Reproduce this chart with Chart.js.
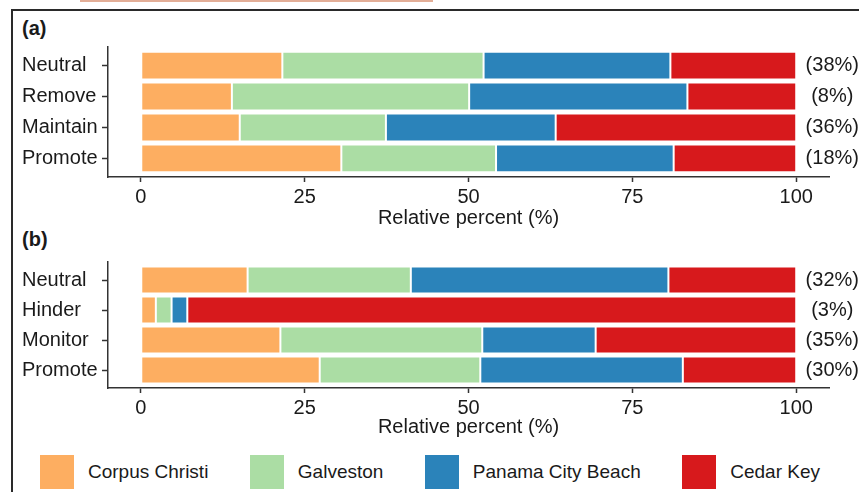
<!DOCTYPE html>
<html>
<head>
<meta charset="utf-8">
<script src="https://cdn.jsdelivr.net/npm/chart.js@4.4.1/dist/chart.umd.min.js"></script>
<style>
    body { margin: 0; width: 859px; height: 492px; overflow: hidden; background: #fff; position: relative;
           font-family: "Liberation Sans", Arial, sans-serif; color: #1a1a1a; }
    .strip { position: absolute; left: 80px; top: 0; width: 353px; height: 2px; background: #e3ae97; }
    .frame { position: absolute; left: 11px; top: 9px; right: -10px; bottom: -10px;
             border-left: 2px solid #2a2a2a; border-top: 2px solid #2a2a2a; }
    .tag { position: absolute; left: 22px; font-weight: bold; font-size: 20px; line-height: 24px; }
    canvas { position: absolute; left: 0; }
    #legend { position: absolute; left: 40px; top: 455px; width: 780px; display: flex; justify-content: space-between; }
    #legend .item { display: flex; align-items: center; font-size: 19px; }
    #legend .swatch { width: 34px; height: 34px; margin-right: 14px; }
</style>
</head>
<body>
<div class="strip"></div>
<div class="frame"></div>
<div class="tag" style="top:16px">(a)</div>
<div class="tag" style="top:227px">(b)</div>
<canvas id="panelA" width="859" height="200" style="top:30px"></canvas>
<canvas id="panelB" width="859" height="195" style="top:245px"></canvas>
<div id="legend"></div>

<script>
// sites and colours
const sites = ['Corpus Christi', 'Galveston', 'Panama City Beach', 'Cedar Key'];
const siteColors = ['#fdae61', '#abdda4', '#2b83ba', '#d7191c'];
const xTicks = [0, 25, 50, 75, 100];

// (a) attitudes
const catsA = ['Neutral', 'Remove', 'Maintain', 'Promote'];
const corpusA = [21.6, 13.9, 15.1, 30.6];
const galvestonA = [30.7, 36.2, 22.3, 23.6];
const panamaA = [28.5, 33.3, 25.9, 27.1];
const cedarA = [19.2, 16.6, 36.7, 18.7];
const shareA = ['(38%)', '(8%)', '(36%)', '(18%)'];

// (b) actions
const catsB = ['Neutral', 'Hinder', 'Monitor', 'Promote'];
const corpusB = [16.3, 2.3, 21.3, 27.3];
const galvestonB = [24.9, 2.4, 30.8, 24.5];
const panamaB = [39.3, 2.4, 17.3, 30.9];
const cedarB = [19.5, 92.9, 30.6, 17.3];
const shareB = ['(32%)', '(3%)', '(35%)', '(30%)'];

Chart.defaults.font.family = '"Liberation Sans", Arial, sans-serif';
Chart.defaults.font.size = 20;
Chart.defaults.color = '#1a1a1a';

// percent of responses written at the right end of each bar
const shareLabels = {
    id: 'shareLabels',
    afterDatasetsDraw(chart, args, opts) {
        const { ctx, scales: { x, y } } = chart;
        ctx.save();
        ctx.font = '20px "Liberation Sans", Arial, sans-serif';
        ctx.fillStyle = '#1a1a1a';
        ctx.textAlign = 'center';
        ctx.textBaseline = 'middle';
        opts.labels.forEach((t, i) => {
            ctx.fillText(t, x.getPixelForValue(opts.at), y.getPixelForValue(i + 1));
        });
        ctx.restore();
    }
};

function makePanel(id, cats, series, shares, axisHeight, titlePad) {
    const ctx = document.getElementById(id).getContext('2d');
    return new Chart(ctx, {
        type: 'bar',
        plugins: [shareLabels],
        data: {
            datasets: series.map((vals, k) => ({
                label: sites[k],
                backgroundColor: siteColors[k],
                borderColor: 'rgba(255,255,255,0.45)',
                borderWidth: 1,
                borderSkipped: false,
                categoryPercentage: 1,
                barPercentage: 0.9,
                data: vals.map((v, i) => ({ x: v, y: i + 1 }))
            }))
        },
        options: {
            indexAxis: 'y',
            responsive: false,
            animation: false,
            devicePixelRatio: 1,
            layout: { padding: { top: 17, right: 30, left: 22, bottom: 0 } },
            scales: {
                x: {
                    type: 'linear',
                    stacked: true,
                    min: -5,
                    max: 105,
                    afterBuildTicks: s => { s.ticks = xTicks.map(v => ({ value: v })); },
                    afterFit: s => { s.height = axisHeight; },
                    ticks: { padding: 3 },
                    grid: { drawOnChartArea: false, tickLength: 5, tickColor: '#333', tickWidth: 1.5 },
                    border: { color: '#333', width: 1.5 },
                    title: { display: true, text: 'Relative percent (%)', padding: { top: 0, bottom: titlePad } }
                },
                y: {
                    type: 'linear',
                    stacked: true,
                    reverse: true,
                    offset: false,
                    min: 0.4,
                    max: 4.6,
                    afterBuildTicks: s => { s.ticks = cats.map((c, i) => ({ value: i + 1 })); },
                    afterFit: s => { s.width = 86; },
                    // labels sit flush left, as in the printed figure
                    ticks: { autoSkip: false, crossAlign: 'far', padding: 4, callback: v => cats[v - 1] },
                    grid: { offset: false, drawOnChartArea: false, tickLength: 6, tickColor: '#333', tickWidth: 1.5 },
                    border: { color: '#333', width: 1.5 }
                }
            },
            plugins: {
                legend: { display: false },
                tooltip: { enabled: false },
                shareLabels: { labels: shares, at: 105.5 }
            }
        }
    });
}

makePanel('panelA', catsA, [corpusA, galvestonA, panamaA, cedarA], shareA, 53, 0);
makePanel('panelB', catsB, [corpusB, galvestonB, panamaB, cedarB], shareB, 52, 1);

// legend along the bottom
const legend = document.getElementById('legend');
sites.forEach((s, k) => {
    const item = document.createElement('div');
    item.className = 'item';
    item.innerHTML = `<span class="swatch" style="background:${siteColors[k]}"></span>${s}`;
    legend.appendChild(item);
});
</script>
</body>
</html>
